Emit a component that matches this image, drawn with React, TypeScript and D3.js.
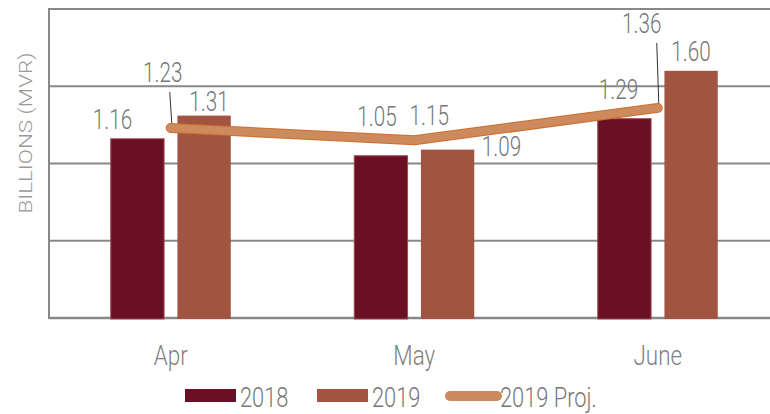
import React, { useEffect, useRef } from "react";
import * as d3 from "d3";

const months = ["Apr", "May", "June"];
const series = ["2018", "2019"];
const values2018 = [1.16, 1.05, 1.29];
const values2019 = [1.31, 1.09, 1.6];
const proj2019 = [1.23, 1.15, 1.36];
const yTicks = [0, 0.5, 1, 1.5, 2];

// label placement relative to each mark (layout only)
const barLabelOffsets = {
  "2018": [[-25, -10], [-4, -30], [-6, -20]],
  "2019": [[5, -5], [54, 6], [0, -10]],
};
const projLabelOffsets = [[-8, -46], [15, -15], [-16, -75]];
const projLeaders = [true, false, true];

const COLORS = { "2018": "#6a1024", "2019": "#a15441", proj: "#cc8a5d", projEdge: "#cf6e2e" };
const FONT = "Roboto, 'Open Sans', sans-serif";

const App = () => {
  const svgRef = useRef(null);

  useEffect(() => {
    const width = 770;
    const height = 414;
    const margin = { top: 9, left: 49, bottom: 96 };

    const svg = d3.select(svgRef.current);
    svg.selectAll("*").remove();

    // condensed light text, like the original's typeface
    const label = (g, x0, y0, str, size, sx, color, anchor = "middle") =>
      g.append("text")
        .attr("transform", `translate(${x0},${y0}) scale(${sx},1)`)
        .attr("text-anchor", anchor)
        .attr("font-family", FONT)
        .attr("font-weight", 300)
        .attr("font-size", size)
        .attr("fill", color)
        .text(str);

    const x = d3.scaleBand().domain(months).range([margin.left, margin.left + 3 * 243.5]);
    const xInner = d3.scaleBand().domain(series).range([-60, 60]).paddingInner(0.2);
    const y = d3.scaleLinear().domain([0, 2]).range([height - margin.bottom, margin.top]);
    const cx = m => x(m) + x.bandwidth() / 2;

    // gridlines
    svg.append("g")
      .selectAll("line")
      .data(yTicks)
      .join("line")
      .attr("x1", margin.left)
      .attr("x2", width)
      .attr("y1", d => y(d))
      .attr("y2", d => y(d))
      .attr("stroke", "#888")
      .attr("stroke-width", d => (d === 0 ? 2.5 : 2));

    svg.append("line")
      .attr("x1", margin.left).attr("x2", margin.left)
      .attr("y1", y(2) - 1).attr("y2", y(0) + 1)
      .attr("stroke", "#888").attr("stroke-width", 2);

    // bars
    const bars = [
      { key: "2018", vals: values2018 },
      { key: "2019", vals: values2019 },
    ];
    bars.forEach(s => {
      svg.append("g")
        .selectAll("rect")
        .data(s.vals)
        .join("rect")
        .attr("x", (d, i) => cx(months[i]) + xInner(s.key))
        .attr("y", d => y(d))
        .attr("width", xInner.bandwidth())
        .attr("height", d => y(0) - y(d) + 1)
        .attr("fill", COLORS[s.key])
        .attr("stroke", s.key === "2018" ? "#a4474f" : "none")
        .attr("stroke-width", 1);
    });

    // projection line
    const line = d3.line<number>()
      .x((d, i) => cx(months[i]))
      .y(d => y(d));

    [[COLORS.projEdge, 10], [COLORS.proj, 8]].forEach(([c, w]) => {
      svg.append("path")
        .datum(proj2019)
        .attr("d", line)
        .attr("fill", "none")
        .attr("stroke", c)
        .attr("stroke-width", w)
        .attr("stroke-linecap", "round")
        .attr("stroke-linejoin", "round");
    });

    // bar labels
    bars.forEach(s => {
      s.vals.forEach((v, i) => {
        const bx = cx(months[i]) + xInner(s.key) + xInner.bandwidth() / 2;
        const [dx, dy] = barLabelOffsets[s.key][i];
        label(svg, bx + dx, y(v) + dy, v.toFixed(2), 28, 0.74, "#777");
      });
    });

    // projection labels with leader lines
    proj2019.forEach((v, i) => {
      const px = cx(months[i]);
      const py = y(v);
      const [dx, dy] = projLabelOffsets[i];
      if (projLeaders[i]) {
        svg.append("line")
          .attr("x1", px - 1).attr("y1", py + dy + 10)
          .attr("x2", px + 1).attr("y2", py - 5)
          .attr("stroke", "#333").attr("stroke-width", 1);
      }
      label(svg, px + dx, py + dy, v.toFixed(2), 28, 0.74, "#777");
    });

    // x labels
    months.forEach(m => label(svg, cx(m), 365, m, 28, 0.8, "#808080"));

    // y label
    svg.append("text")
      .attr("transform", "rotate(-90)")
      .attr("x", -133)
      .attr("y", 32)
      .attr("text-anchor", "middle")
      .attr("font-family", FONT)
      .attr("font-weight", 300)
      .attr("font-size", 18)
      .attr("textLength", 161)
      .attr("lengthAdjust", "spacingAndGlyphs")
      .attr("fill", "#999")
      .text("BILLIONS (MVR)");

    // legend
    const legend = svg.append("g").attr("transform", "translate(0, 398)");
    const legendItems = [
      { label: "2018", type: "rect", color: COLORS["2018"], x: 185 },
      { label: "2019", type: "rect", color: COLORS["2019"], x: 317 },
      { label: "2019 Proj.", type: "line", color: COLORS.proj, x: 445 },
    ];
    legendItems.forEach(item => {
      if (item.type === "rect") {
        legend.append("rect")
          .attr("x", item.x).attr("y", -9)
          .attr("width", 51).attr("height", 13)
          .attr("fill", item.color);
      } else {
        legend.append("line")
          .attr("x1", item.x + 5).attr("x2", item.x + 52)
          .attr("y1", -2).attr("y2", -2)
          .attr("stroke", item.color).attr("stroke-width", 10)
          .attr("stroke-linecap", "round");
      }
      label(legend, item.x + 55, 9, item.label, 28, 0.78, "#777", "start");
    });
  }, []);

  return (
    <div style={{ position: "absolute", left: 0, top: 0, width: 770, height: 414, background: "#fff" }}>
      <svg ref={svgRef} width={770} height={414} style={{ display: "block" }}></svg>
    </div>
  );
};

export default App;
